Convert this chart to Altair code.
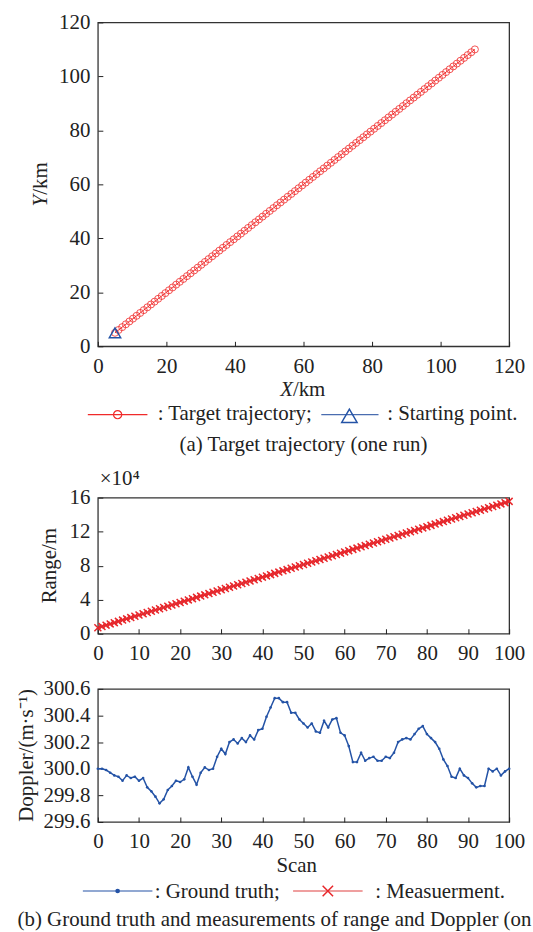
import altair as alt
import pandas as pd

FONT = "Liberation Serif"
FS = 21
INK = "#222222"
RED = "#f02a2a"
BLUE = "#2453a6"

# (a) target trajectory, km
traj_x_km = [
    5.0, 6.05, 7.1, 8.15, 9.2, 10.25, 11.3, 12.35, 13.4, 14.45,
    15.5, 16.55, 17.6, 18.65, 19.7, 20.75, 21.8, 22.85, 23.9, 24.95,
    26.0, 27.05, 28.1, 29.15, 30.2, 31.25, 32.3, 33.35, 34.4, 35.45,
    36.5, 37.55, 38.6, 39.65, 40.7, 41.75, 42.8, 43.85, 44.9, 45.95,
    47.0, 48.05, 49.1, 50.15, 51.2, 52.25, 53.3, 54.35, 55.4, 56.45,
    57.5, 58.55, 59.6, 60.65, 61.7, 62.75, 63.8, 64.85, 65.9, 66.95,
    68.0, 69.05, 70.1, 71.15, 72.2, 73.25, 74.3, 75.35, 76.4, 77.45,
    78.5, 79.55, 80.6, 81.65, 82.7, 83.75, 84.8, 85.85, 86.9, 87.95,
    89.0, 90.05, 91.1, 92.15, 93.2, 94.25, 95.3, 96.35, 97.4, 98.45,
    99.5, 100.55, 101.6, 102.65, 103.7, 104.75, 105.8, 106.85, 107.9, 108.95,
    110.0,
]
traj_y_km = [
    5.0, 6.05, 7.1, 8.15, 9.2, 10.25, 11.3, 12.35, 13.4, 14.45,
    15.5, 16.55, 17.6, 18.65, 19.7, 20.75, 21.8, 22.85, 23.9, 24.95,
    26.0, 27.05, 28.1, 29.15, 30.2, 31.25, 32.3, 33.35, 34.4, 35.45,
    36.5, 37.55, 38.6, 39.65, 40.7, 41.75, 42.8, 43.85, 44.9, 45.95,
    47.0, 48.05, 49.1, 50.15, 51.2, 52.25, 53.3, 54.35, 55.4, 56.45,
    57.5, 58.55, 59.6, 60.65, 61.7, 62.75, 63.8, 64.85, 65.9, 66.95,
    68.0, 69.05, 70.1, 71.15, 72.2, 73.25, 74.3, 75.35, 76.4, 77.45,
    78.5, 79.55, 80.6, 81.65, 82.7, 83.75, 84.8, 85.85, 86.9, 87.95,
    89.0, 90.05, 91.1, 92.15, 93.2, 94.25, 95.3, 96.35, 97.4, 98.45,
    99.5, 100.55, 101.6, 102.65, 103.7, 104.75, 105.8, 106.85, 107.9, 108.95,
    110.0,
]
start_x_km = [5.0]
start_y_km = [5.0]

# (b) per-scan range (m) and Doppler (m/s)
scans = list(range(101))
range_m = [
    7071, 8556, 10041, 11526, 13011, 14496, 15981, 17466, 18950, 20435,
    21920, 23405, 24890, 26375, 27860, 29345, 30830, 32315, 33800, 35285,
    36770, 38254, 39739, 41224, 42709, 44194, 45679, 47164, 48649, 50134,
    51619, 53104, 54589, 56073, 57558, 59043, 60528, 62013, 63498, 64983,
    66468, 67953, 69438, 70923, 72408, 73893, 75377, 76862, 78347, 79832,
    81317, 82802, 84287, 85772, 87257, 88742, 90227, 91712, 93196, 94681,
    96166, 97651, 99136, 100621, 102106, 103591, 105076, 106561, 108046, 109531,
    111016, 112500, 113985, 115470, 116955, 118440, 119925, 121410, 122895, 124380,
    125865, 127350, 128835, 130319, 131804, 133289, 134774, 136259, 137744, 139229,
    140714, 142199, 143684, 145169, 146654, 148139, 149623, 151108, 152593, 154078,
    155563,
]
doppler = [
    300.00, 300.00, 299.99, 299.97, 299.95, 299.94, 299.91, 299.95, 299.93, 299.94,
    299.91, 299.93, 299.86, 299.83, 299.79, 299.74, 299.77, 299.84, 299.87, 299.91,
    299.90, 299.92, 300.01, 299.94, 299.88, 299.97, 300.01, 299.99, 300.00, 300.09,
    300.15, 300.11, 300.20, 300.22, 300.19, 300.23, 300.20, 300.25, 300.22, 300.29,
    300.30, 300.39, 300.46, 300.53, 300.53, 300.50, 300.50, 300.42, 300.42, 300.37,
    300.34, 300.31, 300.34, 300.28, 300.27, 300.36, 300.31, 300.37, 300.38, 300.27,
    300.25, 300.17, 300.05, 300.05, 300.12, 300.06, 300.08, 300.09, 300.06, 300.06,
    300.09, 300.08, 300.12, 300.20, 300.22, 300.23, 300.22, 300.26, 300.30, 300.32,
    300.26, 300.23, 300.20, 300.15, 300.07, 300.02, 299.94, 299.93, 300.00, 299.95,
    299.93, 299.89, 299.86, 299.87, 299.87, 300.00, 299.98, 300.00, 299.95, 299.98,
    300.00,
]

W = 414
H_TOP = 326
H_RANGE = 137
H_DOP = 134
X_MARK = "M-1,-1L1,1M-1,1L1,-1"

one = pd.DataFrame({"k": [0]})


def x_axis(values):
    # ticks point into the frame: axis shifted inward by the tick length
    return alt.Axis(values=values, title=None, tickSize=5, offset=-5, domain=False,
                    grid=False, labelPadding=9, labelFlush=False, labelOverlap=False,
                    labelFont=FONT, labelFontSize=FS, labelColor=INK,
                    tickColor=INK, tickWidth=1)


def y_axis(values, **kw):
    return alt.Axis(values=values, title=None, tickSize=5, offset=-5, domain=False,
                    grid=False, labelPadding=8, labelFlush=False, labelOverlap=False,
                    labelFont=FONT, labelFontSize=FS, labelColor=INK,
                    tickColor=INK, tickWidth=1, **kw)


def text(s, x, y, align="left", baseline="alphabetic", angle=0, italic=False,
         limit=0):
    kw = dict(font=FONT, fontSize=FS, color=INK, align=align, baseline=baseline,
              angle=angle)
    if italic:
        kw["fontStyle"] = "italic"
    if limit:
        # cut at the page edge without an ellipsis glyph
        kw["limit"] = limit
        kw["ellipsis"] = "\u200b"
    return alt.Chart(one).mark_text(**kw).encode(
        x=alt.value(x), y=alt.value(y), text=alt.value(s))


def seg(x1, x2, y, color, width=1.2):
    return alt.Chart(one).mark_rule(color=color, strokeWidth=width).encode(
        x=alt.value(x1), x2=alt.value(x2), y=alt.value(y))


def glyph(x, y, shape, color, size, filled=False, sw=1.2):
    return alt.Chart(one).mark_point(shape=shape, color=color, size=size,
                                     filled=filled, strokeWidth=sw, opacity=1).encode(
        x=alt.value(x), y=alt.value(y))


# ---------- (a) trajectory ----------
traj_df = pd.DataFrame({"x": traj_x_km, "y": traj_y_km})
start_df = pd.DataFrame({"x": start_x_km, "y": start_y_km})
tx = alt.X("x:Q", scale=alt.Scale(domain=[0, 120], nice=False, zero=False),
           axis=x_axis(list(range(0, 121, 20))))
ty = alt.Y("y:Q", scale=alt.Scale(domain=[0, 120], nice=False, zero=False),
           axis=y_axis(list(range(0, 121, 20))))

traj_line = alt.Chart(traj_df).mark_line(color=RED, strokeWidth=1).encode(x=tx, y=ty)
traj_pts = alt.Chart(traj_df).mark_point(shape="circle", filled=False, color=RED,
                                         size=50, strokeWidth=0.8, opacity=1).encode(x=tx, y=ty)
start_pt = alt.Chart(start_df).mark_point(shape="triangle-up", filled=False, color=BLUE,
                                          size=130, strokeWidth=1.5, opacity=1).encode(x=tx, y=ty)

top = alt.layer(
    traj_line, traj_pts, start_pt,
    text("X", 196.3, 376.5, align="right", italic=True),
    text("/km", 196.3, 376.5),
    text("Y", -56.8, 173.5, align="right", baseline="middle", angle=270, italic=True),
    text("/km", -56.8, 173.5, baseline="middle", angle=270),
    seg(-10.1, 49.9, 394.8, RED),
    glyph(19.9, 394.8, "circle", RED, 68, sw=1.2),
    text(": Target trajectory;", 60.2, 399.8),
    seg(224.9, 282.5, 394.8, "#4a6db0"),
    glyph(253.2, 396.0, "triangle-up", BLUE, 240, sw=1.5),
    text(": Starting point.", 291.2, 399.8),
    text("(a) Target trajectory (one run)", W / 2, 431.2, align="center"),
).properties(width=W, height=H_TOP)

# ---------- (b) range ----------
range_df = pd.DataFrame({"scan": scans, "range": range_m})
sx = alt.X("scan:Q", scale=alt.Scale(domain=[0, 100], nice=False, zero=False),
           axis=x_axis(list(range(0, 101, 10))))
ry = alt.Y("range:Q", scale=alt.Scale(domain=[0, 160000], nice=False),
           axis=y_axis([0, 40000, 80000, 120000, 160000],
                       labelExpr="datum.value / 10000"))

range_truth = alt.Chart(range_df).mark_line(color=BLUE, strokeWidth=1.2).encode(x=sx, y=ry)
range_meas_line = alt.Chart(range_df).mark_line(color=RED, strokeWidth=1.2).encode(x=sx, y=ry)
range_meas_pts = alt.Chart(range_df).mark_point(shape=X_MARK, filled=False, color="#e8262a",
                                                size=49, strokeWidth=1.5, opacity=1).encode(x=sx, y=ry)

middle = alt.layer(
    range_truth, range_meas_line, range_meas_pts,
    text("×10⁴", 2, -13),
    text("Range/m", -47.8, H_RANGE / 2, align="center", baseline="middle", angle=270),
).properties(width=W, height=H_RANGE)

# ---------- (b) Doppler ----------
dop_df = pd.DataFrame({"scan": scans, "doppler": doppler})
dy = alt.Y("doppler:Q", scale=alt.Scale(domain=[299.6, 300.6], nice=False, zero=False),
           axis=y_axis([299.6, 299.8, 300.0, 300.2, 300.4, 300.6], format=".1f"))

dop_line = alt.Chart(dop_df).mark_line(color=BLUE, strokeWidth=1.5).encode(x=sx, y=dy)
dop_pts = alt.Chart(dop_df).mark_point(shape="circle", filled=True, color=BLUE,
                                       size=7, opacity=1).encode(x=sx, y=dy)

bottom = alt.layer(
    dop_line, dop_pts,
    text("Doppler/(m·s⁻¹)", -70.8, H_DOP / 2, align="center", baseline="middle", angle=270),
    text("Scan", 200.2, 184.5, align="center"),
    seg(-15.1, 54.9, 203.5, BLUE),
    glyph(19.9, 203.5, "circle", BLUE, 22, filled=True),
    text(": Ground truth;", 57.2, 210.2),
    seg(196.5, 266.5, 203.5, "#e04040"),
    glyph(231.5, 203.5, X_MARK, "#e8262a", 110, sw=1.5),
    text(": Measuerment.", 279.2, 210.2),
    text("(b) Ground truth and measurements of range and Doppler (one run)",
         -80.8, 238.8, limit=518),
).properties(width=W, height=H_DOP)

lower = alt.vconcat(middle, bottom, spacing=55.5, bounds="flush")

chart = alt.vconcat(top, lower, spacing=152.3, bounds="flush").properties(
    padding={"left": 15.5, "top": 7.5, "right": 0, "bottom": 0}
).configure_view(stroke="#333333", strokeWidth=1.3)

chart.save("out.html", embed_options={"renderer": "svg", "actions": False})
